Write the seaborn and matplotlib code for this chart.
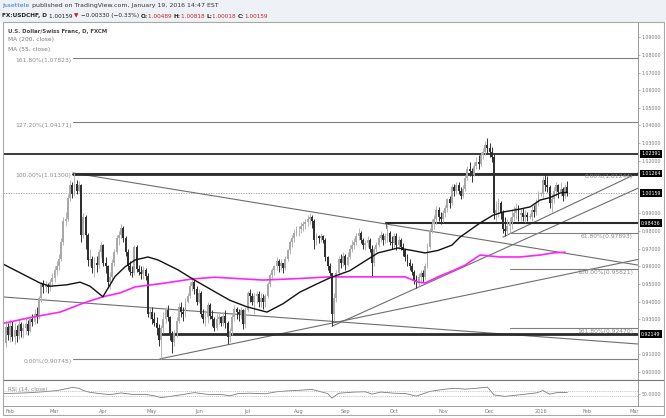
import numpy as np
import pandas as pd
import matplotlib
matplotlib.use("Agg")
import matplotlib.pyplot as plt
from matplotlib.patches import Rectangle
from matplotlib.lines import Line2D
import seaborn as sns

sns.set_style("white")
plt.rcParams['font.family'] = ['DejaVu Sans']

# ---------------- data ----------------
first_open = 0.9000
# closes Jan 28 2015 .. Jan 19 2016 (daily)
closes = [
    # Jan 28-30
    0.9165, 0.9255, 0.9210,
    # Feb
    0.9260, 0.9200, 0.9240, 0.9205, 0.9270, 0.9230, 0.9250, 0.9275, 0.9235, 0.9300,
    0.9285, 0.9330, 0.9310, 0.9420, 0.9500, 0.9480, 0.9495, 0.9480, 0.9510, 0.9535,
    # Mar
    0.9580, 0.9600, 0.9640, 0.9740, 0.9860, 0.9870, 0.9990, 1.0060, 1.0010, 1.0070,
    1.0030, 1.0060, 0.9780, 0.9880, 0.9775, 0.9635, 0.9640, 0.9590, 0.9620, 0.9605,
    0.9680, 0.9720,
    # Apr
    0.9620, 0.9600, 0.9510, 0.9540, 0.9620, 0.9680, 0.9760, 0.9780, 0.9820, 0.9760,
    0.9680, 0.9600, 0.9570, 0.9560, 0.9710, 0.9585, 0.9570, 0.9555, 0.9580, 0.9545,
    0.9330, 0.9340,
    # May
    0.9300, 0.9280, 0.9250, 0.9180, 0.9250, 0.9300, 0.9350, 0.9310, 0.9210, 0.9170,
    0.9220, 0.9290, 0.9370, 0.9340, 0.9330, 0.9400, 0.9430, 0.9490, 0.9510, 0.9470,
    0.9400,
    # Jun
    0.9450, 0.9330, 0.9300, 0.9310, 0.9380, 0.9320, 0.9300, 0.9250, 0.9300, 0.9310,
    0.9280, 0.9320, 0.9280, 0.9200, 0.9230, 0.9310, 0.9360, 0.9340, 0.9330, 0.9350,
    0.9270, 0.9350,
    # Jul
    0.9450, 0.9430, 0.9400, 0.9430, 0.9440, 0.9400, 0.9420, 0.9395, 0.9430, 0.9500,
    0.9550, 0.9580, 0.9600, 0.9630, 0.9600, 0.9620, 0.9590, 0.9640, 0.9690, 0.9740,
    0.9760, 0.9790, 0.9810,
    # Aug
    0.9810, 0.9830, 0.9840, 0.9850, 0.9870, 0.9880, 0.9860, 0.9750, 0.9770, 0.9760,
    0.9770, 0.9750, 0.9650, 0.9600, 0.9560, 0.9330, 0.9420, 0.9560, 0.9640, 0.9620,
    0.9660,
    # Sep
    0.9610, 0.9650, 0.9700, 0.9720, 0.9740, 0.9770, 0.9790, 0.9750, 0.9720, 0.9730,
    0.9750, 0.9700, 0.9620, 0.9700, 0.9720, 0.9760, 0.9780, 0.9750, 0.9770, 0.9790,
    0.9740, 0.9730,
    # Oct
    0.9770, 0.9720, 0.9750, 0.9710, 0.9690, 0.9650, 0.9620, 0.9600, 0.9570, 0.9520,
    0.9510, 0.9540, 0.9560, 0.9540, 0.9600, 0.9710, 0.9800, 0.9840, 0.9870, 0.9920,
    0.9880, 0.9870,
    # Nov
    0.9900, 0.9930, 0.9980, 0.9960, 1.0050, 1.0030, 1.0060, 1.0030, 1.0000, 1.0040,
    1.0100, 1.0150, 1.0140, 1.0120, 1.0170, 1.0190, 1.0180, 1.0230, 1.0250, 1.0290,
    1.0270,
    # Dec
    1.0250, 1.0220, 0.9900, 0.9920, 0.9960, 0.9900, 0.9810, 0.9800, 0.9830, 0.9850,
    0.9880, 0.9900, 0.9930, 0.9890, 0.9900, 0.9880, 0.9890, 0.9880, 0.9880, 0.9920,
    0.9910, 0.9960, 1.0010,
    # Jan 2016
    1.0010, 1.0090, 1.0060, 1.0050, 0.9960, 0.9980, 1.0030, 1.0060, 1.0020, 1.0040,
    1.0000, 1.00489, 1.00159,
]
highs = [
    0.9185, 0.9290, 0.9280,
    0.9300, 0.9290, 0.9280, 0.9265, 0.9300, 0.9285, 0.9280, 0.9310, 0.9295, 0.9320,
    0.9330, 0.9355, 0.9370, 0.9430, 0.9510, 0.9520, 0.9515, 0.9505, 0.9530, 0.9560,
    0.9600, 0.9630, 0.9670, 0.9760, 0.9880, 0.9910, 1.0010, 1.0090, 1.0080, 1.0130,
    1.0090, 1.0085, 1.0070, 0.9905, 0.9890, 0.9790, 0.9700, 0.9660, 0.9650, 0.9660,
    0.9700, 0.9740,
    0.9725, 0.9650, 0.9610, 0.9570, 0.9640, 0.9700, 0.9780, 0.9800, 0.9840, 0.9830,
    0.9770, 0.9700, 0.9630, 0.9600, 0.9720, 0.9720, 0.9610, 0.9600, 0.9600, 0.9590,
    0.9560, 0.9370,
    0.9370, 0.9340, 0.9310, 0.9270, 0.9265, 0.9340, 0.9370, 0.9380, 0.9320, 0.9230,
    0.9240, 0.9310, 0.9390, 0.9400, 0.9370, 0.9420, 0.9450, 0.9510, 0.9540, 0.9520,
    0.9490,
    0.9470, 0.9460, 0.9360, 0.9350, 0.9400, 0.9390, 0.9350, 0.9310, 0.9330, 0.9340,
    0.9320, 0.9340, 0.9350, 0.9290, 0.9250, 0.9330, 0.9380, 0.9370, 0.9360, 0.9370,
    0.9360, 0.9370,
    0.9460, 0.9470, 0.9450, 0.9450, 0.9460, 0.9460, 0.9450, 0.9440, 0.9440, 0.9510,
    0.9560, 0.9590, 0.9610, 0.9650, 0.9640, 0.9640, 0.9620, 0.9660, 0.9700, 0.9750,
    0.9780, 0.9810, 0.9830,
    0.9830, 0.9850, 0.9860, 0.9870, 0.9890, 0.9900, 0.9890, 0.9870, 0.9790, 0.9780,
    0.9790, 0.9780, 0.9760, 0.9660, 0.9620, 0.9560, 0.9450, 0.9580, 0.9660, 0.9670,
    0.9680,
    0.9670, 0.9680, 0.9720, 0.9750, 0.9760, 0.9790, 0.9820, 0.9800, 0.9760, 0.9750,
    0.9770, 0.9760, 0.9720, 0.9710, 0.9740, 0.9780, 0.9800, 0.9790, 0.9790, 0.9835,
    0.9800, 0.9770,
    0.9790, 0.9790, 0.9770, 0.9760, 0.9730, 0.9700, 0.9670, 0.9640, 0.9620, 0.9580,
    0.9550, 0.9560, 0.9580, 0.9580, 0.9620, 0.9730, 0.9820, 0.9870, 0.9890, 0.9940,
    0.9935, 0.9910,
    0.9920, 0.9950, 0.9990, 1.0000, 1.0070, 1.0070, 1.0080, 1.0080, 1.0050, 1.0060,
    1.0120, 1.0170, 1.0190, 1.0160, 1.0190, 1.0220, 1.0230, 1.0250, 1.0270, 1.0310,
    1.0328,
    1.0300, 1.0280, 1.0240, 0.9970, 0.9990, 0.9970, 0.9920, 0.9880, 0.9870, 0.9880,
    0.9920, 0.9940, 0.9960, 0.9950, 0.9930, 0.9930, 0.9920, 0.9910, 0.9900, 0.9940,
    0.9950, 0.9980, 1.0030,
    1.0020, 1.0110, 1.0126, 1.0110, 1.0060, 1.0010, 1.0050, 1.0080, 1.0070, 1.0080,
    1.0050, 1.0070, 1.00818,
]
lows = [
    0.8985, 0.9140, 0.9180,
    0.9170, 0.9175, 0.9160, 0.9170, 0.9190, 0.9200, 0.9195, 0.9215, 0.9210, 0.9225,
    0.9260, 0.9270, 0.9280, 0.9300, 0.9400, 0.9450, 0.9455, 0.9450, 0.9460, 0.9490,
    0.9510, 0.9550, 0.9580, 0.9630, 0.9720, 0.9830, 0.9860, 0.9970, 0.9990, 1.0000,
    1.0010, 1.0020, 0.9740, 0.9760, 0.9700, 0.9600, 0.9600, 0.9560, 0.9540, 0.9570,
    0.9590, 0.9650,
    0.9600, 0.9560, 0.9490, 0.9470, 0.9520, 0.9600, 0.9670, 0.9720, 0.9760, 0.9740,
    0.9660, 0.9580, 0.9550, 0.9540, 0.9550, 0.9570, 0.9550, 0.9530, 0.9530, 0.9520,
    0.9310, 0.9300,
    0.9270, 0.9260, 0.9210, 0.9150, 0.90745, 0.9220, 0.9280, 0.9290, 0.9180, 0.9110,
    0.9150, 0.9200, 0.9280, 0.9310, 0.9290, 0.9310, 0.9390, 0.9420, 0.9460, 0.9440,
    0.9380,
    0.9390, 0.9310, 0.9280, 0.9260, 0.9280, 0.9300, 0.9260, 0.9230, 0.9240, 0.9270,
    0.9260, 0.9260, 0.9250, 0.9160, 0.9170, 0.9210, 0.9290, 0.9300, 0.9290, 0.9300,
    0.9245, 0.9250,
    0.9340, 0.9400, 0.9380, 0.9330, 0.9390, 0.9370, 0.9370, 0.9360, 0.9370, 0.9420,
    0.9480, 0.9530, 0.9550, 0.9580, 0.9570, 0.9580, 0.9560, 0.9580, 0.9630, 0.9670,
    0.9710, 0.9740, 0.9770,
    0.9770, 0.9790, 0.9800, 0.9810, 0.9830, 0.9840, 0.9820, 0.9700, 0.9720, 0.9730,
    0.9740, 0.9730, 0.9630, 0.9580, 0.9540, 0.9260, 0.9290, 0.9400, 0.9550, 0.9590,
    0.9600,
    0.9580, 0.9600, 0.9640, 0.9680, 0.9700, 0.9720, 0.9750, 0.9730, 0.9700, 0.9690,
    0.9710, 0.9680, 0.9540, 0.9600, 0.9680, 0.9710, 0.9740, 0.9720, 0.9730, 0.9740,
    0.9720, 0.9700,
    0.9710, 0.9690, 0.9700, 0.9690, 0.9660, 0.9630, 0.9600, 0.9580, 0.9550, 0.9500,
    0.9476, 0.9490, 0.9510, 0.9510, 0.9530, 0.9590, 0.9700, 0.9790, 0.9810, 0.9840,
    0.9860, 0.9840,
    0.9850, 0.9880, 0.9910, 0.9930, 0.9950, 1.0000, 1.0010, 1.0010, 0.9980, 0.9990,
    1.0030, 1.0090, 1.0110, 1.0080, 1.0110, 1.0150, 1.0150, 1.0170, 1.0210, 1.0230,
    1.0240,
    1.0220, 1.0190, 0.9870, 0.9860, 0.9880, 0.9870, 0.9790, 0.9770, 0.9780, 0.9790,
    0.9810, 0.9860, 0.9870, 0.9860, 0.9860, 0.9860, 0.9850, 0.9860, 0.9870, 0.9860,
    0.9880, 0.9890, 0.9940,
    1.0000, 0.9990, 1.0030, 1.0020, 0.9930, 0.9910, 0.9960, 1.0000, 0.9990, 1.0000,
    0.9970, 0.9990, 1.00018,
]

# moving averages, sampled (bar index, value)
ma55_idx = [1.8, 18.5, 23, 30.6, 36.5, 41, 46.8, 52.3, 56.8, 61.3, 67.1, 71.6, 80.6, 88.3,
            97.3, 104, 111.7, 120.7, 128, 135.6, 143.2, 149, 153.6, 158, 163.5, 170.7,
            179.7, 186, 191.9, 197.7, 204, 207.7, 216.7, 222.5, 227, 234.7, 239.2, 243.7,
            248.2, 252.7, 256]
ma55_val = [0.9613, 0.9505, 0.9487, 0.9495, 0.9510, 0.9487, 0.9427, 0.9543, 0.9597, 0.9636,
            0.9653, 0.9636, 0.9580, 0.9520, 0.9455, 0.9407, 0.9370, 0.9340, 0.9388, 0.9454,
            0.9500, 0.9534, 0.9555, 0.9575, 0.9619, 0.9676, 0.9704, 0.9690, 0.9676, 0.9690,
            0.9720, 0.9766, 0.9846, 0.9890, 0.9908, 0.9925, 0.9937, 0.9976, 0.9990, 1.0016,
            1.0020]
ma200_idx = [1.8, 15.3, 27.5, 37.8, 46.8, 54.5, 61.3, 74.8, 86.9, 97.3, 118.9, 134.2, 149,
             170.7, 182.9, 188.7, 191.9, 197.7, 205.4, 210, 216.7, 225.7, 234.7, 243.7,
             249.5, 255]
ma200_val = [0.9276, 0.9312, 0.9340, 0.9390, 0.9427, 0.9449, 0.9483, 0.9505, 0.9528, 0.9538,
             0.9522, 0.9530, 0.9540, 0.9540, 0.9540, 0.9510, 0.9505, 0.9540, 0.9580, 0.9607,
             0.9664, 0.9653, 0.9653, 0.9664, 0.9676, 0.9680]

# RSI(14), sampled (bar index, value)
rsi_idx = [2, 8, 14, 20, 26, 30, 33, 36, 38, 41, 45, 50, 55, 60, 66, 70, 73, 78, 84, 88,
           95, 100, 104, 108, 113, 120, 125, 130, 135, 141, 145, 148, 150, 153, 160, 165,
           168, 172, 178, 183, 188, 194, 200, 205, 210, 215, 220, 223, 228, 235, 242, 245,
           248, 252, 256]
rsi_val = [50, 51, 53, 56, 60, 66, 71, 68, 60, 54, 50, 46, 52, 47, 47, 42, 36, 41, 48, 53,
           46, 47, 42, 50, 51, 49, 56, 59, 61, 64, 56, 50, 34, 51, 55, 56, 48, 55, 51, 50,
           41, 57, 64, 68, 65, 68, 72, 45, 40, 46, 52, 60, 48, 54, 53]

# drawn lines: (start bar, start price, end bar, end price)
trend_lines = [
    (33.3, 1.0130, 287.8, 0.9607),
    (1.8, 0.9426, 287.8, 0.9159),
    (72.5, 0.90745, 287.8, 0.9639),
    (150.0, 0.9260, 287.8, 1.0043),
    (227.0, 0.9766, 287.8, 1.0130),
]
fib_mar_levels = [1.07823, 1.04171, 1.01300, 0.90745]
fib_mar_labels = ["161.80%(1.07823)", "127.20%(1.04171)", "100.00%(1.01300)", "0.00%(0.90745)"]
fib_dec_levels = [1.01244, 0.97893, 0.95821, 0.92470]
fib_dec_labels = ["0.00%(1.01244)", "61.80%(0.97893)", "100.00%(0.95821)", "161.80%(0.92470)"]
hlines = [(1.8, 1.02391, 1.3), (33.3, 1.01264, 2.0), (174.3, 0.98436, 1.5), (72.5, 0.92149, 2.0)]
price_boxes = [1.02391, 1.01264, 1.00159, 0.98436, 0.92149]
last_price = 1.00159
hidden_ticks = [0.92, 1.00, 1.01]

# ---------------- figure ----------------
W, H = 666, 418
fig = plt.figure(figsize=(6.66, 4.18), dpi=100)
def fx(px): return px / W
def fy(py): return 1 - py / H

fig.patches.append(Rectangle((0, fy(22)), 1, 22 / H, transform=fig.transFigure,
                             fc='#eef1f5', ec='none', zorder=0))
fig.patches.append(Rectangle((fx(3), fy(415)), fx(664) - fx(3), fy(22) - fy(415),
                             transform=fig.transFigure, fc='none', ec='#a8a8a8', lw=0.8, zorder=5))

ax = fig.add_axes([fx(3), fy(380), fx(638) - fx(3), fy(22) - fy(380)])
axr = fig.add_axes([fx(3), fy(406), fx(638) - fx(3), fy(380) - fy(406)])
XL = (1.8, 287.84)
ax.set_xlim(*XL)
axr.set_xlim(*XL)
ax.set_ylim(0.89546, 1.09868)

# candles
c = np.array(closes); h = np.array(highs); l = np.array(lows)
o = np.r_[first_open, c[:-1]]
x = np.arange(2, 2 + len(c))
up = c >= o
up_col, dn_col = '#a9a9a9', '#303030'
ax.vlines(x[up], l[up], h[up], color='#b5b5b5', lw=0.7, zorder=3)
ax.vlines(x[~up], l[~up], h[~up], color=dn_col, lw=0.7, zorder=3)
body_lo = np.minimum(o, c); body_h = np.maximum(np.abs(c - o), 0.0004)
ax.bar(x[up], body_h[up], bottom=body_lo[up], width=0.85, color=up_col, lw=0, zorder=4)
ax.bar(x[~up], body_h[~up], bottom=body_lo[~up], width=0.85, color=dn_col, lw=0, zorder=4)

# MAs
sns.lineplot(x=ma200_idx, y=ma200_val, ax=ax, color='#ff22ff', lw=1.2, sort=False,
             estimator=None, zorder=5)
sns.lineplot(x=ma55_idx, y=ma55_val, ax=ax, color='#111111', lw=1.0, sort=False,
             estimator=None, zorder=5)

# trend lines
for (x0, y0, x1, y1) in trend_lines:
    ax.plot([x0, x1], [y0, y1], color='#6e6e6e', lw=0.8, zorder=2)

# fib (March) lines with labels on left
for lev, lab in zip(fib_mar_levels, fib_mar_labels):
    ax.plot([33.3, XL[1]], [lev, lev], color='#808080', lw=0.8, zorder=2)
    ax.annotate(lab, (33.3, lev), xytext=(-1, -2), textcoords='offset points',
                ha='right', va='center', fontsize=4.3, color='#8c8c8c')
# fib (Dec) lines with labels at right
for lev, lab in zip(fib_dec_levels, fib_dec_labels):
    ax.plot([230.2, XL[1]], [lev, lev], color='#808080', lw=0.8, zorder=2)
    ax.annotate(lab, (285.6, lev), xytext=(0, -2.2), textcoords='offset points',
                ha='right', va='center', fontsize=4.3, color='#8c8c8c')
for (x0, lev, lw) in hlines:
    ax.plot([x0, XL[1]], [lev, lev], color='#2a2a2a', lw=lw, zorder=2)
ax.plot([174.3, 174.3], [0.98436, 0.9815], color='#555', lw=0.6, zorder=2)
ax.axhline(last_price, color='#9a9a9a', lw=0.6, ls=(0, (1.5, 1.5)), zorder=1)

# right price axis
ax.yaxis.tick_right()
yt = [v for v in np.round(np.arange(0.90, 1.0901, 0.01), 2) if v not in hidden_ticks]
ax.set_yticks(yt)
ax.set_yticklabels([f"{v:.5f}" for v in yt])
ax.tick_params(axis='y', length=1.5, width=0.5, color='#999', labelsize=3.4,
               labelcolor='#7a7a7a', pad=1.2)
ax.set_xticks([])
for s in ['left', 'top']:
    ax.spines[s].set_visible(False)
ax.spines['right'].set_color('#9a9a9a'); ax.spines['right'].set_linewidth(0.7)
ax.spines['bottom'].set_color('#777'); ax.spines['bottom'].set_linewidth(0.8)
ax.set_xlabel(''); ax.set_ylabel('')

for v in price_boxes:
    ax.annotate(f"{v:.5f}", xy=(1.0, v), xycoords=('axes fraction', 'data'),
                xytext=(2.3, 0), textcoords='offset points', ha='left', va='center',
                fontsize=3.4, color='white', annotation_clip=False, zorder=10,
                bbox=dict(boxstyle='square,pad=0.3', fc='black', ec='black', lw=0))

# RSI pane
sns.lineplot(x=rsi_idx, y=rsi_val, ax=axr, color='#7a7a7a', lw=0.6, sort=False, estimator=None)
axr.set_ylim(7, 96.5)
for lv in (60, 40):
    axr.axhline(lv, color='#b0b0b0', lw=0.5, ls=(0, (1.5, 1.5)))
axr.yaxis.tick_right()
axr.set_yticks([50]); axr.set_yticklabels(['50.0000'])
axr.tick_params(axis='y', length=1.5, width=0.5, color='#999', labelsize=3.4,
                labelcolor='#7a7a7a', pad=1.2)
dates = pd.bdate_range("2015-01-26", "2016-03-31")
mstart = dates.to_series().groupby([dates.year, dates.month]).first()
tick_pos, tick_lab = [], []
for d in mstart:
    if d <= pd.Timestamp("2015-01-31"):
        continue
    tick_pos.append(dates.get_loc(d))
    tick_lab.append("2016" if (d.year == 2016 and d.month == 1) else d.strftime("%b"))
axr.set_xticks(tick_pos)
axr.set_xticklabels(tick_lab)
axr.tick_params(axis='x', length=1.5, width=0.5, color='#999', labelsize=3.6,
                labelcolor='#7a7a7a', pad=0.8)
for s in ['left', 'top']:
    axr.spines[s].set_visible(False)
axr.spines['right'].set_color('#9a9a9a'); axr.spines['right'].set_linewidth(0.7)
axr.spines['bottom'].set_color('#999'); axr.spines['bottom'].set_linewidth(0.7)
axr.set_xlabel(''); axr.set_ylabel('')
axr.text(0.008, 0.62, "RSI (14, close)", transform=axr.transAxes, fontsize=4.0,
         color='#888', va='center')

# separators extending into axis area
fig.add_artist(Line2D([fx(3), fx(664)], [fy(380), fy(380)], color='#777', lw=0.8))
fig.add_artist(Line2D([fx(3), fx(664)], [fy(406), fy(406)], color='#a0a0a0', lw=0.7))

# legend texts
ax.text(fx(8), fy(31), "U.S. Dollar/Swiss Franc, D, FXCM", transform=fig.transFigure,
        fontsize=3.9, color='#444', fontweight='bold', va='center')
ax.text(fx(8), fy(40), "MA (200, close)", transform=fig.transFigure, fontsize=4.2,
        color='#777', va='center')
ax.text(fx(8), fy(49), "MA (55, close)", transform=fig.transFigure, fontsize=4.2,
        color='#777', va='center')

# header
fig.text(fx(2), fy(6), "jsaettele", fontsize=4.5, color='#2f7bd3', va='center')
fig.text(fx(32.5), fy(6), "published on TradingView.com, January 19, 2016 14:47 EST",
         fontsize=4.5, color='#333', va='center')
segs = [("FX:USDCHF, D ", '#222', 'bold'), ("1.00159 ", '#222', 'normal'),
        ("\u25bc", '#c0272d', 'normal'), (" \u22120.00330 (\u22120.33%) ", '#222', 'normal'),
        ("O:", '#222', 'bold'), ("1.00489 ", '#c0272d', 'normal'),
        ("H:", '#222', 'bold'), ("1.00818 ", '#c0272d', 'normal'),
        ("L:", '#222', 'bold'), ("1.00018 ", '#c0272d', 'normal'),
        ("C:", '#222', 'bold'), ("1.00159", '#c0272d', 'normal')]
fig.canvas.draw()
r = fig.canvas.get_renderer()
xpos = 2
for txt, col, wt in segs:
    t = fig.text(fx(xpos), fy(16), txt, fontsize=4.15, color=col, fontweight=wt, va='center')
    bb = t.get_window_extent(renderer=r)
    xpos += bb.width

fig.savefig("out.png", dpi=100)
